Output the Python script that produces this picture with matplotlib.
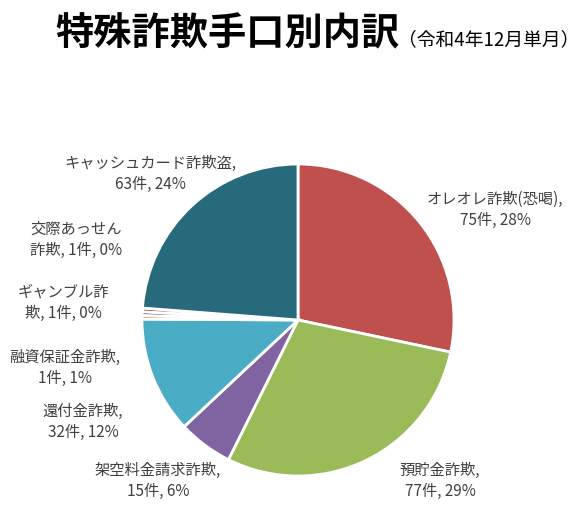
import matplotlib
matplotlib.use("Agg")
from matplotlib import pyplot as plt

plt.rcParams['font.family'] = ['Noto Sans CJK JP', 'DejaVu Sans']

# data (clockwise from 12 o'clock)
categories = ['オレオレ詐欺(恐喝)', '預貯金詐欺', '架空料金請求詐欺', '還付金詐欺',
              '融資保証金詐欺', 'ギャンブル詐欺', '交際あっせん詐欺', 'キャッシュカード詐欺盗']
counts = [75, 77, 15, 32, 1, 1, 1, 63]
label_texts = ['オレオレ詐欺(恐喝),\n75件, 28%',
               '預貯金詐欺,\n77件, 29%',
               '架空料金請求詐欺,\n15件, 6%',
               '還付金詐欺,\n32件, 12%',
               '融資保証金詐欺,\n1件, 1%',
               'ギャンブル詐\n欺, 1件, 0%',
               '交際あっせん\n詐欺, 1件, 0%',
               'キャッシュカード詐欺盗,\n63件, 24%']
colors = ['#C0504D', '#9BBB59', '#8064A2', '#4BACC6',
          '#F79646', '#2C4D75', '#772C2A', '#276A7C']

# label centres in pixels (x, y from top)
label_pos = [(495, 210), (440, 481), (158, 481), (83, 422),
             (65, 368), (63, 303), (76, 240), (150, 174)]

W, H = 584, 523
fig = plt.figure(figsize=(W / 100, H / 100), dpi=100)

cx, cy, r = 298, 320, 156
ax = fig.add_axes([(cx - r) / W, (H - cy - r) / H, 2 * r / W, 2 * r / H])
ax.pie(counts, colors=colors, startangle=90, counterclock=False, radius=1,
       wedgeprops=dict(edgecolor='white', linewidth=2))
ax.set_xlim(-1, 1)
ax.set_ylim(-1, 1)
ax.set_aspect('equal')
ax.axis('off')

for txt, (px, py) in zip(label_texts, label_pos):
    fig.text(px / W, 1 - py / H, txt, ha='center', va='center', fontsize=11,
             color='#404040', linespacing=1.3)

fig.text(55 / W, 1 - 45 / H, '特殊詐欺手口別内訳', fontsize=27.5, fontweight='bold',
         ha='left', va='baseline', color='black')
fig.text(398 / W, 1 - 45 / H, '（令和4年12月単月）', fontsize=13.5,
         ha='left', va='baseline', color='black')

fig.savefig('out.png', dpi=100)
